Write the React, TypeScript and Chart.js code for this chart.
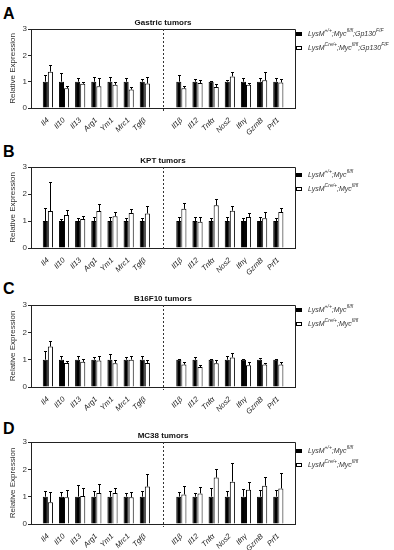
import React, { useEffect, useRef } from 'react';
import { Chart, registerables } from 'chart.js';
Chart.register(...registerables);

const GENES = ['Il4', 'Il10', 'Il13', 'Arg1', 'Ym1', 'Mrc1', 'Tgfβ', 'Il1β', 'Il12', 'Tnfα', 'Nos2', 'Ifnγ', 'GzmB', 'Prf1'];
const Y_TICKS = [0, 1, 2, 3];
const TITLES = ['Gastric tumors', 'KPT tumors', 'B16F10 tumors', 'MC38 tumors'];

const GASTRIC_WT = [1, 1, 1, 1, 1, 1, 1, 1, 1, 1, 1, 1, 1, 1];
const GASTRIC_WT_SEM = [0.27, 0.32, 0.15, 0.17, 0.18, 0.15, 0.12, 0.27, 0.10, 0.02, 0.07, 0.15, 0.13, 0.15];
const GASTRIC_KO = [1.38, 0.75, 0.92, 0.83, 0.88, 0.70, 0.93, 0.75, 0.95, 0.80, 1.20, 0.88, 1.05, 0.97];
const GASTRIC_KO_SEM = [0.24, 0.10, 0.05, 0.32, 0.10, 0.08, 0.24, 0.10, 0.13, 0.13, 0.15, 0.07, 0.30, 0.13];

const KPT_WT = [1, 1, 1, 1, 1, 1, 1, 1, 1, 1, 1, 1, 1, 1];
const KPT_WT_SEM = [0.50, 0.07, 0.10, 0.15, 0.13, 0.10, 0.10, 0.15, 0.13, 0.10, 0.15, 0.10, 0.13, 0.10];
const KPT_KO = [1.37, 1.22, 1.07, 1.37, 1.18, 1.30, 1.28, 1.45, 0.97, 1.58, 1.38, 1.15, 1.10, 1.33];
const KPT_KO_SEM = [1.06, 0.20, 0.13, 0.26, 0.15, 0.15, 0.27, 0.20, 0.18, 0.25, 0.19, 0.13, 0.23, 0.14];

const B16_WT = [1, 1, 1, 1, 1, 1, 1, 1, 1, 1, 1, 1, 1, 1];
const B16_WT_SEM = [0.30, 0.12, 0.12, 0.10, 0.22, 0.08, 0.12, 0.03, 0.08, 0.03, 0.15, 0.03, 0.07, 0.03];
const B16_KO = [1.48, 0.88, 0.92, 0.97, 0.87, 1.00, 0.88, 0.82, 0.73, 0.87, 1.08, 0.80, 0.82, 0.82];
const B16_KO_SEM = [0.22, 0.07, 0.11, 0.18, 0.13, 0.12, 0.12, 0.11, 0.07, 0.11, 0.17, 0.10, 0.06, 0.11];

const MC38_WT = [1, 1, 1, 1, 1, 1, 1, 1, 1, 1, 1, 1, 1, 1];
const MC38_WT_SEM = [0.22, 0.18, 0.43, 0.22, 0.20, 0.15, 0.20, 0.17, 0.15, 0.32, 0.20, 0.27, 0.23, 0.23];
const MC38_KO = [0.80, 0.98, 1.02, 1.13, 1.13, 0.98, 1.37, 1.08, 1.12, 1.70, 1.55, 1.25, 1.40, 1.30];
const MC38_KO_SEM = [0.37, 0.27, 0.31, 0.35, 0.17, 0.20, 0.46, 0.32, 0.23, 0.30, 0.67, 0.30, 0.33, 0.55];

const FONT = "'Liberation Sans', Arial, Helvetica, sans-serif";
const GAP = 1.26;
const POS = GENES.map((_, i) => (i < 7 ? i : i + GAP));

type Panel = {
  letter: string;
  title: string;
  wt: number[];
  wtSem: number[];
  ko: number[];
  koSem: number[];
  gp130: boolean;
  plotTop: number;
  plotBottom: number;
  legendY: number;
  letterTop: number;
};

const PANELS: Panel[] = [
  { letter: 'A', title: TITLES[0], wt: GASTRIC_WT, wtSem: GASTRIC_WT_SEM, ko: GASTRIC_KO, koSem: GASTRIC_KO_SEM, gp130: true, plotTop: 29, plotBottom: 108, legendY: 34, letterTop: 6 },
  { letter: 'B', title: TITLES[1], wt: KPT_WT, wtSem: KPT_WT_SEM, ko: KPT_KO, koSem: KPT_KO_SEM, gp130: false, plotTop: 167, plotBottom: 248, legendY: 175, letterTop: 144 },
  { letter: 'C', title: TITLES[2], wt: B16_WT, wtSem: B16_WT_SEM, ko: B16_KO, koSem: B16_KO_SEM, gp130: false, plotTop: 305, plotBottom: 387, legendY: 310, letterTop: 281 },
  { letter: 'D', title: TITLES[3], wt: MC38_WT, wtSem: MC38_WT_SEM, ko: MC38_KO, koSem: MC38_KO_SEM, gp130: false, plotTop: 442, plotBottom: 524, legendY: 451, letterTop: 421 },
];

const CANVAS_W = 300;
const TOP_PAD = 14;
const X_AXIS_H = 30;

const decorPlugin = (title: string) => ({
  id: 'decor',
  afterDraw(chart: any) {
    const { ctx, chartArea, scales } = chart;
    const { left, right, top, bottom } = chartArea;
    const y = scales.y;
    const x = scales.x;
    ctx.save();
    // error bars
    chart.data.datasets.forEach((ds: any, di: number) => {
      const meta = chart.getDatasetMeta(di);
      meta.data.forEach((bar: any, i: number) => {
        const v = ds.data[i].y;
        const e = ds.errors[i];
        const yTop = Math.round(y.getPixelForValue(v + e)) + 0.5;
        const xc = Math.round(bar.x) + 0.5;
        ctx.strokeStyle = '#000';
        ctx.lineWidth = 1;
        ctx.beginPath();
        ctx.moveTo(xc, bar.y);
        ctx.lineTo(xc, yTop);
        ctx.moveTo(xc - 1.5, yTop);
        ctx.lineTo(xc + 1.5, yTop);
        ctx.stroke();
      });
    });
    // frame top & right
    ctx.strokeStyle = '#222';
    ctx.lineWidth = 1;
    ctx.beginPath();
    ctx.moveTo(Math.round(left), Math.round(top) + 0.5);
    ctx.lineTo(Math.round(right) + 0.5, Math.round(top) + 0.5);
    ctx.lineTo(Math.round(right) + 0.5, Math.round(bottom) + 0.5);
    ctx.stroke();
    // dashed separator
    const xs = Math.round(x.getPixelForValue((POS[6] + POS[7]) / 2)) + 0.5;
    ctx.setLineDash([2, 2]);
    ctx.strokeStyle = '#333';
    ctx.beginPath();
    ctx.moveTo(xs, top);
    ctx.lineTo(xs, bottom + 3);
    ctx.stroke();
    ctx.setLineDash([]);
    // title
    ctx.fillStyle = '#111';
    ctx.font = `bold 8px ${FONT}`;
    ctx.textAlign = 'center';
    ctx.textBaseline = 'bottom';
    ctx.fillText(title, (left + right) / 2, top - 2);
    ctx.restore();
  },
});

function PanelChart({ p }: { p: Panel }) {
  const ref = useRef<HTMLCanvasElement | null>(null);
  useEffect(() => {
    if (!ref.current) return;
    const wtLabel = p.gp130 ? 'LysM+/+;Mycfl/fl;Gp130F/F' : 'LysM+/+;Mycfl/fl';
    const koLabel = p.gp130 ? 'LysMCre/+;Mycfl/fl;Gp130F/F' : 'LysMCre/+;Mycfl/fl';
    const chart = new Chart(ref.current, {
      type: 'bar',
      data: {
        datasets: [
          { label: wtLabel, data: POS.map((x, i) => ({ x, y: p.wt[i] })), backgroundColor: '#000', borderColor: '#000', borderWidth: 1, errors: p.wtSem } as any,
          { label: koLabel, data: POS.map((x, i) => ({ x, y: p.ko[i] })), backgroundColor: '#fff', borderColor: '#000', borderWidth: 1, errors: p.koSem } as any,
        ],
      },
      options: {
        animation: false,
        responsive: false,
        maintainAspectRatio: false,
        layout: { padding: { top: TOP_PAD, right: CANVAS_W - 295, left: 0, bottom: 0 } },
        datasets: { bar: { categoryPercentage: 0.63, barPercentage: 1 } } as any,
        plugins: { legend: { display: false }, tooltip: { enabled: false }, title: { display: false } },
        scales: {
          x: {
            type: 'linear',
            min: -0.46,
            max: 14.71,
            grid: { display: false },
            border: { display: true, color: '#222', width: 1 },
            afterBuildTicks: (s: any) => { s.ticks = POS.map((v) => ({ value: v })); },
            afterFit: (s: any) => { s.height = X_AXIS_H; },
            ticks: {
              autoSkip: false,
              minRotation: 45,
              maxRotation: 45,
              padding: 0,
              color: '#222',
              font: { family: FONT, size: 7.5, style: 'italic' },
              callback: (_v: any, i: number) => GENES[i],
            },
          },
          y: {
            min: 0,
            max: 3,
            afterBuildTicks: (s: any) => { s.ticks = Y_TICKS.map((v) => ({ value: v })); },
            afterFit: (s: any) => { s.width = 31; },
            grid: { drawOnChartArea: false, drawTicks: true, tickLength: 3, color: '#222' },
            border: { display: true, color: '#222', width: 1 },
            ticks: { padding: 1, color: '#333', font: { family: FONT, size: 8 } },
            title: { display: true, text: 'Relative Expression', color: '#333', font: { family: FONT, size: 8 }, padding: { top: 8, bottom: 0 } },
          },
        },
      } as any,
      plugins: [decorPlugin(p.title)],
    });
    return () => chart.destroy();
  }, [p]);
  const h = p.plotBottom - p.plotTop + TOP_PAD + X_AXIS_H;
  return (
    <canvas
      ref={ref}
      width={CANVAS_W}
      height={h}
      style={{ position: 'absolute', left: 0, top: p.plotTop - TOP_PAD, width: CANVAS_W, height: h, display: 'block' }}
    />
  );
}

const supStyle: React.CSSProperties = { fontSize: '5px', verticalAlign: 'top', position: 'relative', top: '-1px', lineHeight: '5px' };

function Legend({ p }: { p: Panel }) {
  const rowStyle = (y: number): React.CSSProperties => ({
    position: 'absolute', left: 296, top: y - 5, height: 10, display: 'flex', alignItems: 'center', whiteSpace: 'nowrap',
  });
  const textStyle: React.CSSProperties = { fontFamily: FONT, fontStyle: 'italic', fontSize: '7px', color: '#333', lineHeight: '10px', marginLeft: 6 };
  return (
    <>
      <div style={rowStyle(p.legendY)}>
        <span style={{ display: 'inline-block', width: 6, height: 4, background: '#000', border: '1px solid #000', boxSizing: 'border-box' }} />
        <span style={textStyle}>
          LysM<sup style={supStyle}>+/+</sup>;Myc<sup style={supStyle}>fl/fl</sup>
          {p.gp130 ? <>;Gp130<sup style={supStyle}>F/F</sup></> : null}
        </span>
      </div>
      <div style={rowStyle(p.legendY + 13.5)}>
        <span style={{ display: 'inline-block', width: 6, height: 4, background: '#fff', border: '1px solid #000', boxSizing: 'border-box' }} />
        <span style={textStyle}>
          LysM<sup style={supStyle}>Cre/+</sup>;Myc<sup style={supStyle}>fl/fl</sup>
          {p.gp130 ? <>;Gp130<sup style={supStyle}>F/F</sup></> : null}
        </span>
      </div>
    </>
  );
}

export default function App() {
  return (
    <div style={{ position: 'absolute', left: 0, top: 0, width: 394, height: 550, background: '#fff', overflow: 'hidden' }}>
      {PANELS.map((p) => (
        <React.Fragment key={p.letter}>
          <div style={{ position: 'absolute', left: 3, top: p.letterTop, fontFamily: FONT, fontWeight: 'bold', fontSize: '16px', lineHeight: '16px', color: '#000' }}>
            {p.letter}
          </div>
          <PanelChart p={p} />
          <Legend p={p} />
        </React.Fragment>
      ))}
    </div>
  );
}
